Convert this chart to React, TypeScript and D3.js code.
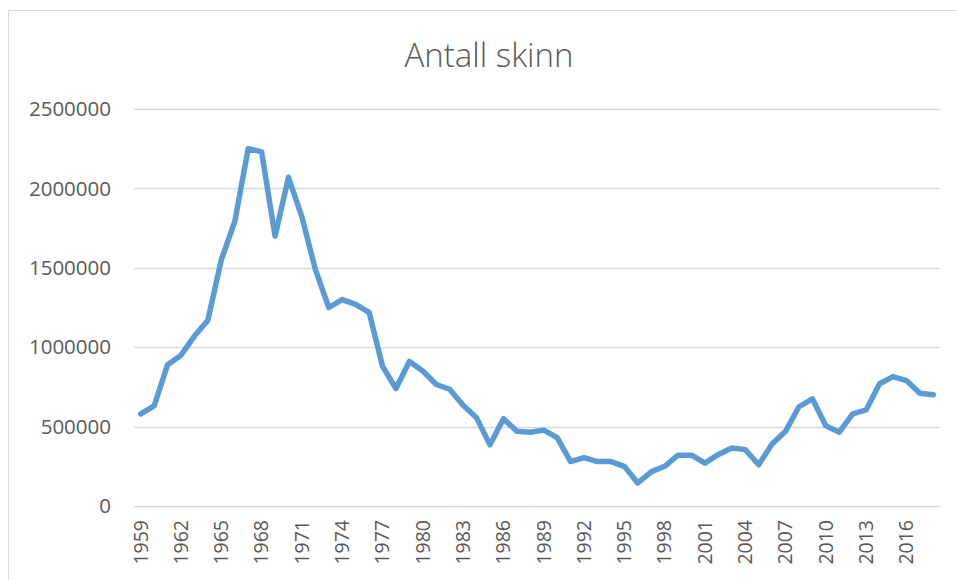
import React, { useEffect, useRef } from 'react';
import * as d3 from 'd3';

const years: number[] = d3.range(1959, 2019);

const skins: number[] = [
  580000, 630000, 890000, 950000, 1070000, 1170000, 1550000, 1790000, 2250000, 2230000,
  1700000, 2070000, 1820000, 1490000, 1250000, 1300000, 1270000, 1220000, 880000, 740000,
  910000, 850000, 765000, 735000, 635000, 555000, 385000, 550000, 470000, 465000,
  478000, 430000, 280000, 305000, 280000, 280000, 250000, 145000, 215000, 250000,
  320000, 320000, 270000, 325000, 365000, 355000, 260000, 390000, 470000, 625000,
  675000, 505000, 465000, 580000, 605000, 770000, 815000, 790000, 710000, 700000,
];

const yTicks: number[] = [0, 500000, 1000000, 1500000, 2000000, 2500000];

const App: React.FC = () => {
  const svgRef = useRef<SVGSVGElement>(null);
  const width = 957;
  const height = 580;

  useEffect(() => {
    const svg = d3.select(svgRef.current);
    svg.selectAll('*').remove();

    const margin = { top: 109, right: 17, bottom: 74, left: 134 };
    const innerWidth = width - margin.left - margin.right;
    const innerHeight = height - margin.top - margin.bottom;

    const x = d3.scaleBand<number>()
      .domain(years)
      .range([0, innerWidth]);

    const y = d3.scaleLinear()
      .domain([0, 2500000])
      .range([innerHeight, 0]);

    // Chart frame
    svg.append('rect')
      .attr('x', 8.5)
      .attr('y', 10.5)
      .attr('width', 980)
      .attr('height', 600)
      .attr('fill', '#ffffff')
      .attr('stroke', '#d9d9d9')
      .attr('stroke-width', 1);

    // Title
    svg.append('text')
      .attr('x', 489)
      .attr('y', 67)
      .attr('text-anchor', 'middle')
      .attr('font-family', '"Open Sans", sans-serif')
      .attr('font-weight', 300)
      .attr('font-size', '33px')
      .attr('fill', '#595959')
      .text('Antall skinn');

    const g = svg.append('g')
      .attr('transform', `translate(${margin.left},${margin.top})`);

    // Grid lines
    g.selectAll('.grid-line')
      .data(yTicks)
      .enter()
      .append('line')
      .attr('class', 'grid-line')
      .attr('x1', 0)
      .attr('x2', innerWidth)
      .attr('y1', d => Math.round(y(d)) + 0.5)
      .attr('y2', d => Math.round(y(d)) + 0.5)
      .attr('stroke', '#d9d9d9')
      .attr('stroke-width', 1.5);

    // Y labels
    g.selectAll('.y-label')
      .data(yTicks)
      .enter()
      .append('text')
      .attr('class', 'y-label')
      .attr('x', -23)
      .attr('y', d => y(d))
      .attr('dy', '0.35em')
      .attr('text-anchor', 'end')
      .attr('font-family', '"Open Sans", sans-serif')
      .attr('font-size', '20.5px')
      .attr('fill', '#595959')
      .text(d => String(d));

    // X labels (every third year)
    const xLabels = years.filter((_, i) => i % 3 === 0);
    g.selectAll('.x-label')
      .data(xLabels)
      .enter()
      .append('text')
      .attr('class', 'x-label')
      .attr('transform', d => `translate(${(x(d) || 0) + x.bandwidth() / 2},${innerHeight + 14}) rotate(-90)`)
      .attr('dy', '0.35em')
      .attr('text-anchor', 'end')
      .attr('font-family', '"Open Sans", sans-serif')
      .attr('font-size', '19.5px')
      .attr('fill', '#595959')
      .text(d => String(d));

    // Line
    const line = d3.line<number>()
      .x((_, i) => (x(years[i]) || 0) + x.bandwidth() / 2)
      .y(d => y(d));

    g.append('path')
      .datum(skins)
      .attr('d', line)
      .attr('fill', 'none')
      .attr('stroke', '#5b9bd5')
      .attr('stroke-width', 5.5)
      .attr('stroke-linejoin', 'round')
      .attr('stroke-linecap', 'round');
  }, []);

  return (
    <svg
      ref={svgRef}
      width={width}
      height={height}
      style={{ position: 'absolute', left: 0, top: 0, background: '#ffffff' }}
    />
  );
};

export default App;
